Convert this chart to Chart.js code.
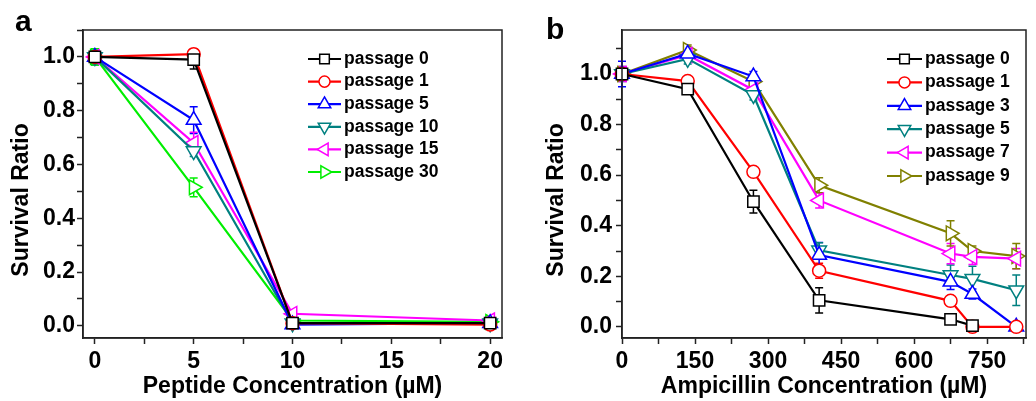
<!DOCTYPE html>
<html>
<head>
<meta charset="utf-8">
<script src="https://cdn.jsdelivr.net/npm/chart.js@4/dist/chart.umd.min.js"></script>
<style>
  body { margin: 0; background: #fff; }
  .panel { position: absolute; top: 0; width: 518px; height: 401px; }
  .tag { position: absolute; font: bold 30px 'Liberation Sans', Arial, sans-serif; color: #000; }
</style>
</head>
<body>
<div class="panel" style="left:0"><canvas id="chartA" width="518" height="401"></canvas></div>
<div class="panel" style="left:518px"><canvas id="chartB" width="518" height="401"></canvas></div>
<div class="tag" style="left:15px; top:4px">a</div>
<div class="tag" style="left:546px; top:12px">b</div>
<script>
// --- Data: panel a (peptide) ---
const peptideConc = [0, 5, 10, 20]
const peptideLabels = ['passage 0', 'passage 1', 'passage 5', 'passage 10', 'passage 15', 'passage 30']
const peptideSurvival = [
    [1.0, 0.99, 0.01, 0.01],
    [1.0, 1.01, 0.01, 0.005],
    [1.0, 0.765, 0.005, 0.01],
    [1.0, 0.65, 0.01, 0.01],
    [1.0, 0.68, 0.045, 0.02],
    [1.0, 0.515, 0.02, 0.015]
]
const peptideErr = [
    [0.02, 0.035, 0.01, 0.01],
    [0.02, 0.02, 0.01, 0.01],
    [0.02, 0.05, 0.01, 0.01],
    [0.03, 0.02, 0.01, 0.01],
    [0.02, 0.04, 0.01, 0.01],
    [0.03, 0.035, 0.01, 0.01]
]

// --- Data: panel b (ampicillin) ---
const ampConc = [0, 135, 270, 405, 675, 720, 810]
const ampLabels = ['passage 0', 'passage 1', 'passage 3', 'passage 5', 'passage 7', 'passage 9']
const ampSurvival = [
    [1.0, 0.94, 0.495, 0.105, 0.03, 0.005],
    [1.0, 0.972, 0.613, 0.222, 0.103, 0.0, 0.0],
    [1.0, 1.08, 0.99, 0.284, 0.178, 0.13, 0.0],
    [1.0, 1.06, 0.917, 0.303, 0.205, 0.19, 0.145],
    [1.0, 1.075, 0.937, 0.50, 0.29, 0.277, 0.27],
    [1.0, 1.095, 0.97, 0.56, 0.37, 0.30, 0.28]
]
const ampErr = [
    [0.02, 0.01, 0.045, 0.05, 0.01, 0.01],
    [0.02, 0.01, 0.01, 0.03, 0.02, 0.01, 0.01],
    [0.05, 0.02, 0.02, 0.05, 0.03, 0.02, 0.01],
    [0.03, 0.02, 0.02, 0.03, 0.04, 0.05, 0.06],
    [0.03, 0.02, 0.03, 0.03, 0.04, 0.03, 0.04],
    [0.02, 0.02, 0.02, 0.03, 0.05, 0.02, 0.05]
]

// --- Styles ---
const peptideColors = ['#000000', '#ff0000', '#0000ff', '#008080', '#ff00ff', '#00ee00']
const ampColors = ['#000000', '#ff0000', '#0000ff', '#008080', '#ff00ff', '#808000']
const markers = [
    { style: 'rect', rot: 0, r: 8 },
    { style: 'circle', rot: 0, r: 6.5 },
    { style: 'triangle', rot: 0, r: 8.5 },
    { style: 'triangle', rot: 180, r: 8.5 },
    { style: 'triangle', rot: 270, r: 8.5 },
    { style: 'triangle', rot: 90, r: 8.5 }
]
const FONT = "'Liberation Sans', Arial, sans-serif"

function buildDatasets(xs, ys, errs, labels, colors) {
    return ys.map((vals, i) => ({
        label: labels[i],
        data: vals.map((v, j) => ({ x: xs[j], y: v })),
        errors: errs[i],
        borderColor: colors[i],
        backgroundColor: '#ffffff',
        borderWidth: 2.2,
        pointStyle: markers[i].style,
        pointRotation: markers[i].rot,
        pointRadius: markers[i].r,
        pointBorderWidth: 1.5,
        pointBackgroundColor: '#ffffff',
        pointBorderColor: colors[i],
        tension: 0,
        clip: false
    }))
}

// error bars + frame + y title + custom legend
const extras = {
    id: 'extras',
    beforeDatasetsDraw(chart) {
        const ctx = chart.ctx
        const ys = chart.scales.y
        chart.data.datasets.forEach((ds, i) => {
            const meta = chart.getDatasetMeta(i)
            ctx.save()
            ctx.strokeStyle = ds.borderColor
            ctx.lineWidth = 1.5
            meta.data.forEach((pt, j) => {
                const e = ds.errors[j]
                const v = ds.data[j].y
                const y1 = ys.getPixelForValue(v + e)
                const y2 = ys.getPixelForValue(v - e)
                ctx.beginPath()
                ctx.moveTo(pt.x, y1); ctx.lineTo(pt.x, y2)
                ctx.moveTo(pt.x - 4, y1); ctx.lineTo(pt.x + 4, y1)
                ctx.moveTo(pt.x - 4, y2); ctx.lineTo(pt.x + 4, y2)
                ctx.stroke()
            })
            ctx.restore()
        })
    },
    afterDraw(chart, args, opts) {
        const ctx = chart.ctx
        const a = chart.chartArea
        ctx.save()
        ctx.strokeStyle = '#222'
        ctx.lineWidth = 1.5
        ctx.strokeRect(a.left, a.top, a.right - a.left, a.bottom - a.top)

        // y axis title (sits a bit below the plot centre in the original)
        ctx.save()
        ctx.translate(opts.titleX, (a.top + a.bottom) / 2 + 16)
        ctx.rotate(-Math.PI / 2)
        ctx.font = 'bold 23px ' + FONT
        ctx.fillStyle = '#000'
        ctx.textAlign = 'center'
        ctx.textBaseline = 'middle'
        ctx.fillText(opts.yTitle, 0, 0)
        ctx.restore()

        // legend
        ctx.font = 'bold 17.5px ' + FONT
        ctx.textBaseline = 'middle'
        chart.data.datasets.forEach((ds, i) => {
            const y = opts.y + i * opts.row
            ctx.strokeStyle = ds.borderColor
            ctx.lineWidth = 2.2
            ctx.beginPath()
            ctx.moveTo(opts.x, y); ctx.lineTo(opts.x + opts.len, y)
            ctx.stroke()
            ctx.fillStyle = '#ffffff'
            ctx.lineWidth = 1.5
            Chart.helpers.drawPoint(ctx, {
                pointStyle: ds.pointStyle, radius: ds.pointRadius * 0.85,
                rotation: ds.pointRotation, borderWidth: 1.5
            }, opts.x + opts.len / 2, y)
            ctx.fillStyle = '#000'
            ctx.fillText(ds.label, opts.x + opts.len + 3, y)
        })
        ctx.restore()
    }
}

function axisOpts(cfg) {
    return {
        type: 'linear',
        min: cfg.min,
        max: cfg.max,
        afterFit: cfg.fit,
        // plain multiples of the step between min and max
        afterBuildTicks: s => {
            const out = []
            for (let k = Math.ceil(cfg.min / cfg.step - 1e-9); k * cfg.step <= cfg.max + 1e-9; k++) {
                out.push({ value: Math.round(k * cfg.step * 1e6) / 1e6 })
            }
            s.ticks = out
        },
        border: { display: true, color: '#222', width: 1.5 },
        grid: { drawOnChartArea: false, drawTicks: true, tickLength: 6, tickColor: '#222', tickWidth: 1.5 },
        ticks: {
            padding: cfg.pad,
            color: '#000',
            font: { family: FONT, size: 23, weight: 'bold' },
            maxRotation: 0,
            autoSkip: false,
            callback: cfg.fmt
        },
        title: {
            display: !!cfg.title,
            text: cfg.title,
            color: '#000',
            font: { family: FONT, size: 23, weight: 'bold' },
            padding: cfg.titlePad
        }
    }
}

function makeChart(id, datasets, xCfg, yCfg, pad, extra) {
    return new Chart(document.getElementById(id).getContext('2d'), {
        type: 'line',
        data: { datasets: datasets },
        options: {
            responsive: false,
            animation: false,
            devicePixelRatio: 1,
            layout: { padding: pad },
            plugins: { legend: { display: false }, tooltip: { enabled: false }, extras: extra },
            scales: { x: axisOpts(xCfg), y: axisOpts(yCfg) }
        },
        plugins: [extras]
    })
}

const yFmt = v => (Math.round(v * 10) % 2 === 0 ? v.toFixed(1) : '')

// --- Panel a ---
makeChart('chartA',
    buildDatasets(peptideConc, peptideSurvival, peptideErr, peptideLabels, peptideColors),
    { min: -0.6, max: 20.6, step: 2.5, pad: 4, title: 'Peptide Concentration (\u00b5M)',
      titlePad: { bottom: 1 }, fit: s => { s.height = 63 },
      fmt: v => (Math.round(v * 10) % 50 === 0 ? String(v) : '') },
    { min: -0.045, max: 1.1, step: 0.1, pad: 2, title: '',
      fit: s => { s.width = 83 }, fmt: yFmt },
    { left: 0, top: 30, right: 16, bottom: 0 },
    { x: 308, y: 59, row: 22.6, len: 33, yTitle: 'Survival Ratio', titleX: 22 })

// --- Panel b ---
makeChart('chartB',
    buildDatasets(ampConc, ampSurvival, ampErr, ampLabels, ampColors),
    { min: 0, max: 830, step: 75, pad: 4, title: 'Ampicillin Concentration (\u00b5M)',
      titlePad: { bottom: 1 }, fit: s => { s.height = 63 },
      fmt: v => (Math.round(v) % 150 === 0 ? String(Math.round(v)) : '') },
    { min: -0.044, max: 1.174, step: 0.1, pad: 4, title: '',
      fit: s => { s.width = 104 }, fmt: yFmt },
    { left: 0, top: 30, right: 1, bottom: 0 },
    { x: 369, y: 59, row: 23.4, len: 35, yTitle: 'Survival Ratio', titleX: 39 })
</script>
</body>
</html>
